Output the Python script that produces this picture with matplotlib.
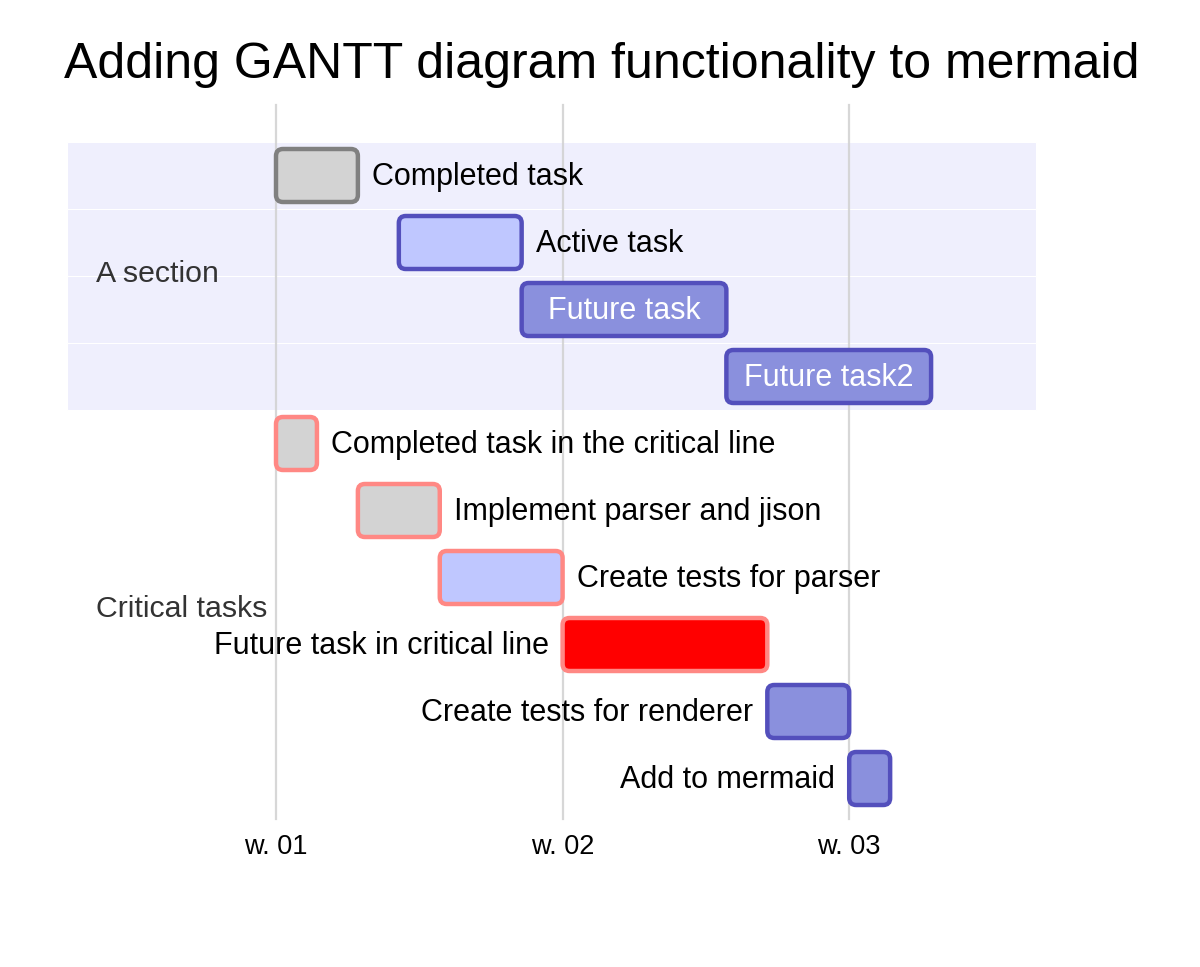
import matplotlib
matplotlib.use("Agg")
import matplotlib.pyplot as plt
from matplotlib.patches import FancyBboxPatch, Rectangle
from datetime import date

plt.rcParams['font.family'] = ['Liberation Sans', 'DejaVu Sans']

title = "Adding GANTT diagram functionality to mermaid"
sections = ["A section", "Critical tasks"]
section_rows = [4, 6]
task_names = ["Completed task", "Active task", "Future task", "Future task2",
              "Completed task in the critical line", "Implement parser and jison",
              "Create tests for parser", "Future task in critical line",
              "Create tests for renderer", "Add to mermaid"]
task_start = ["2014-01-06", "2014-01-09", "2014-01-12", "2014-01-17",
              "2014-01-06", "2014-01-08", "2014-01-10", "2014-01-13",
              "2014-01-18", "2014-01-20"]
task_days = [2, 3, 5, 5, 1, 2, 3, 5, 2, 1]
task_status = ["done", "active", "future", "future",
               "done", "done", "active", "future", "future", "future"]
task_crit = [False, False, False, False, True, True, True, True, False, False]
tick_labels = ["w. 01", "w. 02", "w. 03"]
tick_dates = ["2014-01-06", "2014-01-13", "2014-01-20"]

origin = date(2014, 1, 6)
def dnum(s):
    return (date.fromisoformat(s) - origin).days

W, H = 1200, 967
px_day = 286.6 / 7.0
x0_px = 276.0
row_px = 67.0
y0_px = 175.5
TASK_FS = 22

fig = plt.figure(figsize=(W / 100, H / 100), dpi=100)
ax = fig.add_axes([0, 0, 1, 1])
ax.set_xlim(-x0_px / px_day, (W - x0_px) / px_day)
ax.set_ylim((H - y0_px) / row_px, -y0_px / row_px)
ax.axis('off')

def px2d(px):
    return (px - x0_px) / px_day

# section bands
band_colors = ["#efeffd", "#ffffff"]
r = 0
for i, (s, n) in enumerate(zip(sections, section_rows)):
    for k in range(n):
        ax.add_patch(Rectangle((px2d(67), r + k - 0.5), px2d(1036) - px2d(67), 1,
                               facecolor=band_colors[i % 2], edgecolor='white',
                               linewidth=0.8, zorder=1))
    ax.text(px2d(96), r + (n - 1) / 2 + 0.09, s, fontsize=21.8, color='#333333',
            ha='left', va='baseline', zorder=5)
    r += n

# grid
for tl, td in zip(tick_labels, tick_dates):
    xd = dnum(td)
    ax.plot([xd, xd], [-1.05, 9.6], color='#d3d3d3', lw=1.6, alpha=0.9, zorder=2)
    ax.text(xd, 10.13, tl, fontsize=19.5, ha='center', va='baseline', color='black')

fills = {"done": "#d3d3d3", "active": "#bfc7ff", "future": "#8a90dd"}
strokes = {"done": "#808080", "active": "#534fbc", "future": "#534fbc"}
bar_h = 53 / row_px
pad_px = 14
renderer = fig.canvas.get_renderer()
for i, (name, st, du, stat, crit) in enumerate(zip(task_names, task_start, task_days,
                                                    task_status, task_crit)):
    xs = dnum(st)
    fc = fills[stat]
    ec = strokes[stat]
    if crit:
        ec = "#ff8884"
        if stat == "future":
            fc = "#ff0000"
    p = FancyBboxPatch((xs, i - bar_h / 2), du, bar_h,
                       boxstyle="round,pad=0,rounding_size=%f" % (7 / px_day),
                       mutation_aspect=px_day / row_px,
                       facecolor=fc, edgecolor=ec, linewidth=3.2, zorder=3)
    ax.add_patch(p)
    t = ax.text(0, 0, name, fontsize=TASK_FS)
    tw = t.get_window_extent(renderer=renderer).width
    t.remove()
    bar_w = du * px_day
    yb = i + 9.5 / row_px
    if tw + 20 < bar_w:
        ax.text(xs + du / 2, yb, name, fontsize=TASK_FS, color='white', ha='center',
                va='baseline', zorder=4)
    elif (x0_px + (xs + du) * px_day + pad_px + tw) > 1036:
        ax.text(xs - pad_px / px_day, yb, name, fontsize=TASK_FS, color='black',
                ha='right', va='baseline', zorder=4)
    else:
        ax.text(xs + du + pad_px / px_day, yb, name, fontsize=TASK_FS, color='black',
                ha='left', va='baseline', zorder=4)

ax.text(px2d(602), (78 - y0_px) / row_px, title, fontsize=36, ha='center',
        va='baseline', color='black')

fig.savefig("out.png", dpi=100, facecolor='white')
